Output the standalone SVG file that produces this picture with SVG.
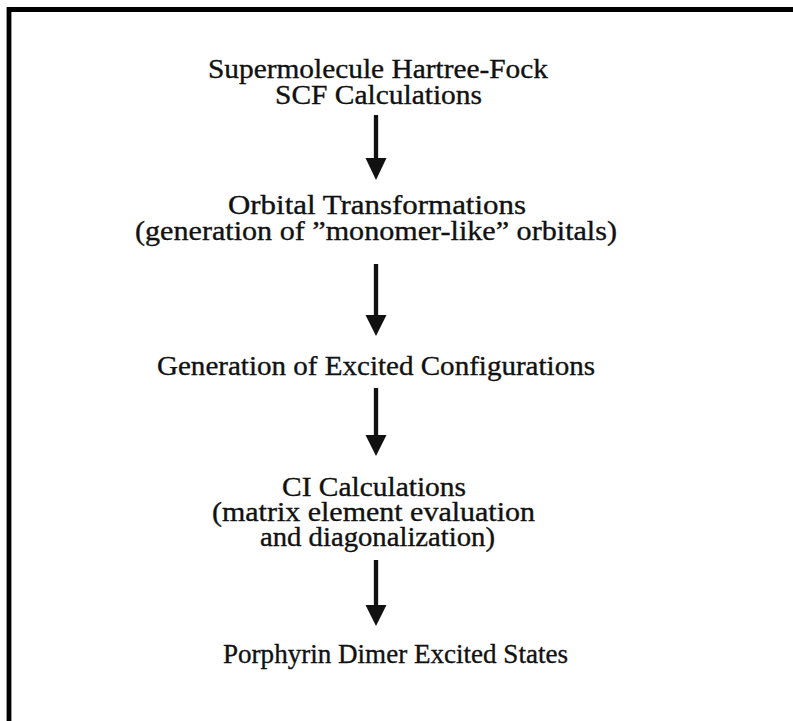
<svg xmlns="http://www.w3.org/2000/svg" width="793" height="721" viewBox="0 0 793 721">
<style>
.t{font-family:"Liberation Serif","Times New Roman",serif;font-size:27px;fill:#111;stroke:#111;stroke-width:0.35;}
.shaft{stroke:#111;stroke-width:4.3;fill:none;}
.head{fill:#111;}
</style>
<rect x="0" y="0" width="793" height="721" fill="#fff"/>
<path d="M9,721 V9.5 H793" fill="none" stroke="#000" stroke-width="4.8"/>
<g id="n1">
<text class="t" x="208" y="78" textLength="340" lengthAdjust="spacingAndGlyphs">Supermolecule Hartree-Fock</text>
<text class="t" x="275" y="104" textLength="207" lengthAdjust="spacingAndGlyphs">SCF Calculations</text>
</g>
<g id="n2">
<text class="t" x="228" y="214" textLength="298" lengthAdjust="spacingAndGlyphs">Orbital Transformations</text>
<text class="t" x="135" y="240" textLength="482" lengthAdjust="spacingAndGlyphs">(generation of ”monomer-like” orbitals)</text>
</g>
<g id="n3">
<text class="t" x="157" y="375" textLength="438" lengthAdjust="spacingAndGlyphs">Generation of Excited Configurations</text>
</g>
<g id="n4">
<text class="t" x="282" y="496" textLength="184" lengthAdjust="spacingAndGlyphs">CI Calculations</text>
<text class="t" x="212" y="521" textLength="323" lengthAdjust="spacingAndGlyphs">(matrix element evaluation</text>
<text class="t" x="260" y="546" textLength="235" lengthAdjust="spacingAndGlyphs">and diagonalization)</text>
</g>
<g id="n5">
<text class="t" x="223" y="663" textLength="345" lengthAdjust="spacingAndGlyphs">Porphyrin Dimer Excited States</text>
</g>
<g id="connectors">
<line class="shaft" x1="376" y1="115" x2="376" y2="162"/>
<polygon class="head" points="365.5,158 386.5,158 376,180"/>
<line class="shaft" x1="376" y1="264" x2="376" y2="319"/>
<polygon class="head" points="365.5,315 386.5,315 376,336"/>
<line class="shaft" x1="376" y1="388" x2="376" y2="439"/>
<polygon class="head" points="365.5,435 386.5,435 376,456"/>
<line class="shaft" x1="376" y1="560" x2="376" y2="609"/>
<polygon class="head" points="365.5,605 386.5,605 376,626"/>
</g>
</svg>
